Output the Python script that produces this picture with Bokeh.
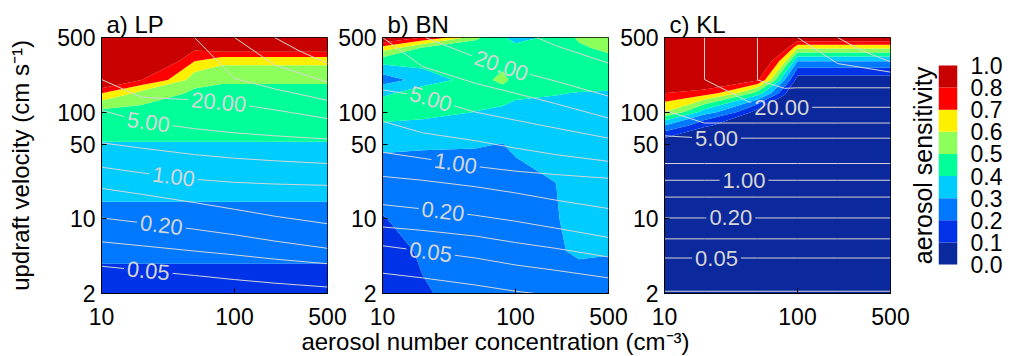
import numpy as np
from bokeh.plotting import figure
from bokeh.models import FixedTicker, PrintfTickFormatter, LinearAxis, Range1d
from bokeh.layouts import row
from bokeh.core.properties import value
from bokeh.embed import file_html
from bokeh.resources import INLINE

FONT = "Liberation Sans"
LINE_COL = "#D6D6D6"
LABEL_FS = 22

# ---------------- data ----------------
aerosol_N = [10, 20, 50, 80, 100, 200, 300, 500]
updraft_w = [2, 5, 10, 20, 50, 75, 100, 150, 200, 300, 400, 500]

x_ticks = [10, 100, 500]
y_ticks = [2, 10, 50, 100, 500]

levels = [0.0, 0.1, 0.2, 0.3, 0.4, 0.5, 0.6, 0.7, 0.8, 1.0]
level_labels = ["0.0", "0.1", "0.2", "0.3", "0.4", "0.5", "0.6", "0.7", "0.8", "1.0"]
palette = ["#0B299C", "#0033E8", "#0078FF", "#00CCFF", "#00FF99",
           "#8CFF5A", "#FFF000", "#FF0000", "#C80000"]

# aerosol sensitivity, rows = updraft_w, columns = aerosol_N
sens_LP = [
    [0.14, 0.14, 0.14, 0.14, 0.14, 0.14, 0.14, 0.14],
    [0.24, 0.24, 0.24, 0.24, 0.24, 0.24, 0.24, 0.24],
    [0.26, 0.26, 0.26, 0.26, 0.26, 0.26, 0.26, 0.26],
    [0.35, 0.35, 0.35, 0.35, 0.35, 0.35, 0.35, 0.35],
    [0.395, 0.395, 0.395, 0.395, 0.395, 0.395, 0.395, 0.395],
    [0.44, 0.44, 0.44, 0.44, 0.44, 0.44, 0.44, 0.44],
    [0.47, 0.47, 0.47, 0.47, 0.47, 0.47, 0.47, 0.47],
    [0.70, 0.56, 0.48, 0.48, 0.48, 0.48, 0.48, 0.48],
    [0.99, 0.80, 0.54, 0.51, 0.51, 0.51, 0.51, 0.51],
    [0.99, 0.95, 0.70, 0.63, 0.63, 0.63, 0.63, 0.63],
    [0.99, 0.97, 0.83, 0.88, 0.88, 0.88, 0.88, 0.88],
    [0.99, 0.98, 0.95, 0.95, 0.95, 0.95, 0.95, 0.95],
]
sens_BN = [
    [0.12, 0.19, 0.26, 0.25, 0.24, 0.23, 0.22, 0.195],
    [0.15, 0.22, 0.27, 0.27, 0.27, 0.28, 0.33, 0.32],
    [0.195, 0.25, 0.27, 0.275, 0.275, 0.29, 0.36, 0.35],
    [0.25, 0.26, 0.27, 0.28, 0.27, 0.298, 0.36, 0.36],
    [0.32, 0.31, 0.305, 0.298, 0.32, 0.33, 0.37, 0.37],
    [0.385, 0.37, 0.35, 0.34, 0.345, 0.35, 0.365, 0.365],
    [0.45, 0.44, 0.398, 0.38, 0.37, 0.37, 0.36, 0.36],
    [0.385, 0.45, 0.45, 0.45, 0.42, 0.405, 0.395, 0.39],
    [0.25, 0.35, 0.46, 0.53, 0.46, 0.45, 0.45, 0.45],
    [0.44, 0.44, 0.45, 0.46, 0.45, 0.46, 0.46, 0.45],
    [0.66, 0.49, 0.45, 0.44, 0.42, 0.45, 0.48, 0.54],
    [0.95, 0.80, 0.52, 0.41, 0.37, 0.43, 0.52, 0.58],
]
sens_KL = [
    [0.03, 0.03, 0.03, 0.03, 0.03, 0.03, 0.03, 0.03],
    [0.03, 0.03, 0.03, 0.03, 0.03, 0.03, 0.03, 0.03],
    [0.03, 0.03, 0.03, 0.03, 0.03, 0.03, 0.03, 0.03],
    [0.03, 0.03, 0.03, 0.03, 0.03, 0.03, 0.03, 0.03],
    [0.02, 0.01, 0.01, 0.01, 0.01, 0.01, 0.01, 0.01],
    [0.30, 0.11, 0.01, 0.01, 0.01, 0.01, 0.01, 0.01],
    [0.60, 0.35, 0.05, 0.01, 0.01, 0.01, 0.01, 0.01],
    [0.80, 0.75, 0.45, 0.11, 0.01, 0.01, 0.01, 0.01],
    [0.95, 0.95, 0.82, 0.30, 0.05, 0.05, 0.05, 0.05],
    [0.98, 0.98, 0.95, 0.62, 0.30, 0.30, 0.30, 0.30],
    [0.98, 0.98, 0.97, 0.85, 0.62, 0.62, 0.62, 0.62],
    [0.98, 0.98, 0.98, 0.95, 0.92, 0.92, 0.92, 0.92],
]

# white contour lines (second quantity), each line: aerosol N and updraft w
LP_line_level = [0.05, 0.1, 0.2, 0.5, 1, 2, 5, 20, 50, 100, 200]
LP_line_N = [
    [10, 20, 50, 100, 200, 500], [10, 20, 50, 100, 200, 500],
    [10, 20, 50, 100, 200, 500], [10, 20, 50, 100, 200, 500],
    [10, 20, 50, 100, 200, 500], [10, 20, 50, 100, 200, 500],
    [10, 20, 50, 100, 200, 500], [10, 20, 50, 100, 200, 500],
    [50, 100, 200, 500], [100, 200, 500], [200, 300, 500],
]
LP_line_w = [
    [3.6, 3.3, 2.95, 2.7, 2.5, 2.3],
    [6.1, 5.6, 5.0, 4.6, 4.2, 3.8],
    [10.2, 9.2, 8.0, 7.1, 6.2, 5.3],
    [19.3, 17.0, 14.2, 12.3, 10.6, 9.0],
    [30.5, 27.0, 23.5, 22.0, 21.2, 20.6],
    [51.6, 46, 40, 37, 35, 33],
    [104, 82, 70, 64, 60, 56],
    [202, 138, 130, 120, 105, 87],
    [500, 207, 165, 129],
    [500, 276, 191],
    [500, 380, 285],
]
LP_label_level = [20, 5, 1, 0.2, 0.05]
LP_label_N = [76, 22.5, 34.8, 28.2, 22.5]

BN_line_level = [0.02, 0.05, 0.1, 0.2, 0.5, 1, 2, 5, 10, 20, 50]
BN_line_N = [
    [10, 20, 50, 100, 200, 500], [10, 20, 50, 100, 200, 500],
    [10, 20, 50, 100, 200, 500], [10, 20, 50, 100, 200, 500],
    [10, 20, 50, 100, 200, 500], [10, 20, 50, 100, 200, 500],
    [10, 20, 50, 100, 200, 500], [10, 20, 50, 100, 200, 500],
    [10, 20, 50, 100, 200, 500], [21, 45, 100, 200, 500], [145, 200, 500],
]
BN_line_w = [
    [3.1, 2.8, 2.4, 2.1, 1.9, 1.7],
    [5.6, 5.0, 4.3, 3.7, 3.3, 2.8],
    [8.4, 7.8, 6.9, 6.0, 5.3, 4.4],
    [13.6, 12.4, 10.8, 9.5, 8.2, 6.7],
    [25, 23, 20, 17.5, 15, 12.5],
    [42, 37, 31, 28, 26, 24],
    [82, 64, 54, 46, 40, 34.6],
    [162, 140, 100, 84, 71, 57],
    [500, 267, 186, 150, 120, 88],
    [500, 344, 245, 195, 141],
    [500, 420, 287],
]
BN_label_level = [20, 5, 1, 0.2, 0.05]
BN_label_N = [78, 23, 35.4, 28.5, 23]

KL_line_level = [0.02, 0.05, 0.1, 0.2, 0.5, 1, 2, 5, 10, 20, 50, 100, 200]
KL_line_N = [
    [10, 20, 50, 100, 200, 500], [10, 20, 50, 100, 200, 500],
    [10, 20, 50, 100, 200, 500], [10, 20, 50, 100, 200, 500],
    [10, 20, 50, 100, 200, 500], [10, 20, 50, 100, 200, 500],
    [10, 20, 50, 100, 200, 500], [10, 20, 50, 100, 200, 500],
    [10, 20, 50, 100, 200, 500], [20, 20, 43, 60, 100, 200, 500],
    [50, 50, 80, 100, 200, 500], [100, 200, 500], [200, 300, 500],
]
KL_line_w = [
    [2.1, 2.1, 2.1, 2.1, 2.1, 2.1],
    [4.3, 4.3, 4.3, 4.3, 4.3, 4.3],
    [6.5, 6.5, 6.5, 6.5, 6.5, 6.5],
    [10.2, 10.2, 10.2, 10.2, 10.2, 10.2],
    [16, 16, 16, 16, 16, 16],
    [23, 23, 23, 23, 23, 23],
    [33, 33, 33, 33, 33, 33],
    [60, 57, 57, 57, 57, 57],
    [104, 79, 79, 79, 79, 79],
    [500, 202, 125, 111, 111, 111, 111],
    [500, 200, 167, 169, 169, 169],
    [500, 285, 237],
    [500, 380, 296],
]
KL_label_level = [20, 5, 1, 0.2, 0.05]
KL_label_N = [76, 24.6, 39.6, 31.5, 24.6]

# ---------------- layout constants ----------------
FRAME_W, FRAME_H = 226, 256
TOP_B, BOT_B = 37, 62
KX = FRAME_W / np.log10(500 / 10)   # px per decade, x
KY = FRAME_H / np.log10(500 / 2)    # px per decade, y


def _seg(X, x):
    j = int(np.searchsorted(X, x, side="right")) - 1
    return min(max(j, 0), len(X) - 2)


def _yat(X, Y, x):
    j = _seg(X, x)
    if X[j + 1] == X[j]:
        return Y[j + 1]
    return Y[j] + (Y[j + 1] - Y[j]) * (x - X[j]) / (X[j + 1] - X[j])


def split_for_label(Ns, ws, n_lab, txt, fs):
    X = np.log10(np.asarray(Ns, float)) * KX
    Y = np.log10(np.asarray(ws, float)) * KY
    xc = np.log10(n_lab) * KX
    j = _seg(X, xc)
    th = float(np.arctan2(Y[j + 1] - Y[j], X[j + 1] - X[j]))
    yc = _yat(X, Y, xc)
    half = fs * (0.556 * (len(txt) - 1) + 0.278) / 2 + 3
    d = half * abs(np.cos(th))
    xl, xr = xc - d, xc + d
    lx = [x for x in X if x < xl] + [xl]
    ly = [Y[k] for k in range(len(X)) if X[k] < xl] + [_yat(X, Y, xl)]
    rx = [xr] + [x for x in X if x > xr]
    ry = [_yat(X, Y, xr)] + [Y[k] for k in range(len(X)) if X[k] > xr]
    toN = lambda a: [float(10 ** (v / KX)) for v in a]
    tow = lambda a: [float(10 ** (v / KY)) for v in a]
    return [(toN(lx), tow(ly)), (toN(rx), tow(ry))], (float(n_lab), float(10 ** (yc / KY)), th)


def make_panel(title, sens, line_N, line_w, line_lev, lab_lev, lab_N,
               left_b, right_b, margin_left, ylabel=None, xlabel=None):
    p = figure(title=title, x_axis_type="log", y_axis_type="log",
               x_range=Range1d(10, 500), y_range=Range1d(2, 500),
               frame_width=FRAME_W, frame_height=FRAME_H,
               min_border_left=left_b, min_border_right=right_b,
               min_border_top=TOP_B, min_border_bottom=BOT_B,
               output_backend="svg", toolbar_location=None,
               margin=(0, 0, 0, margin_left))
    p.border_fill_alpha = 0
    p.grid.visible = False
    p.outline_line_color = "black"
    p.outline_line_width = 1
    p.outline_line_alpha = 1

    p.contour(x=np.array(aerosol_N, float), y=np.array(updraft_w, float),
              z=np.array(sens, float), levels=levels,
              fill_color=palette, line_color=None)

    xs, ys = [], []
    lx, ly, lt, la = [], [], [], []
    for N, w, lev in zip(line_N, line_w, line_lev):
        if lev in lab_lev:
            k = lab_lev.index(lev)
            txt = f"{lev:.2f}"
            pieces, (cx, cy, th) = split_for_label(N, w, lab_N[k], txt, LABEL_FS)
            for a, b in pieces:
                xs.append(a)
                ys.append(b)
            lx.append(cx); ly.append(cy); lt.append(txt); la.append(th)
        else:
            xs.append([float(v) for v in N])
            ys.append([float(v) for v in w])
    p.multi_line(xs=xs, ys=ys, line_color=LINE_COL, line_width=1)
    p.text(x=lx, y=ly, text=lt, angle=la, text_font=value(FONT),
           text_font_size=f"{LABEL_FS}px", text_color=LINE_COL,
           text_align="center", text_baseline="middle")

    xa = p.xaxis[0]
    ya = p.yaxis[0]
    xa.ticker = FixedTicker(ticks=x_ticks)
    ya.ticker = FixedTicker(ticks=y_ticks)
    for ax in (xa, ya):
        ax.formatter = PrintfTickFormatter(format="%d")
        ax.major_label_text_font = FONT
        ax.major_label_text_font_size = "23px"
        ax.major_label_text_color = "black"
        ax.major_tick_in = 5
        ax.major_tick_out = 0
        ax.minor_tick_line_color = None
        ax.axis_line_color = "black"
        ax.major_tick_line_color = "black"
    xa.major_label_standoff = 14
    ya.major_label_standoff = 6
    if ylabel:
        ya.axis_label = ylabel
        ya.axis_label_text_font = FONT
        ya.axis_label_text_font_size = "24px"
        ya.axis_label_text_font_style = "normal"
        ya.axis_label_text_color = "black"
        ya.axis_label_standoff = 20
    if xlabel:
        xa.axis_label = xlabel
        xa.axis_label_text_font = FONT
        xa.axis_label_text_font_size = "24px"
        xa.axis_label_text_font_style = "normal"
        xa.axis_label_text_color = "black"
        xa.axis_label_standoff = 0

    p.title.text_font = FONT
    p.title.text_font_size = "24px"
    p.title.text_font_style = "normal"
    p.title.text_color = "black"
    p.title.align = "left"
    p.title.offset = 5
    p.title.standoff = 0
    return p


# panel frames at x = 101, 382, 663 (page has no margin)
pa = make_panel("a) LP", sens_LP, LP_line_N, LP_line_w, LP_line_level,
                LP_label_level, LP_label_N, 101, 25, 0,
                ylabel="updraft velocity (cm s\u207b\u00b9)")
pb = make_panel("b) BN", sens_BN, BN_line_N, BN_line_w, BN_line_level,
                BN_label_level, BN_label_N, 84, 84, -54,
                xlabel="aerosol number concentration (cm\u207b\u00b3)")
pc = make_panel("c) KL", sens_KL, KL_line_N, KL_line_w, KL_line_level,
                KL_label_level, KL_label_N, 46, 25, -75)

# ---------------- colour bar ----------------
n_bands = len(palette)
band_bottom = list(range(n_bands))
band_top = [b + 1 for b in band_bottom]
CB_H = 199                      # px of the colour bar itself
px_unit = n_bands / CB_H
cb = figure(x_range=Range1d(0, 1),
            y_range=Range1d(-29 * px_unit, n_bands + 28 * px_unit),
            frame_width=19, frame_height=FRAME_H,
            min_border_left=30, min_border_right=45,
            min_border_top=TOP_B, min_border_bottom=BOT_B,
            y_axis_location="right", output_backend="svg", toolbar_location=None,
            margin=(0, 0, 0, -10))
cb.border_fill_alpha = 0
cb.background_fill_alpha = 0
cb.quad(left=0, right=1, bottom=band_bottom, top=band_top, fill_color=palette, line_color=None)
cb.xaxis.visible = False
cb.grid.visible = False
cb.outline_line_color = None
cya = cb.yaxis[0]
cya.ticker = FixedTicker(ticks=list(range(len(level_labels))))
cya.major_label_overrides = {i: lab for i, lab in enumerate(level_labels)}
cya.major_label_text_font = FONT
cya.major_label_text_font_size = "23px"
cya.major_label_text_color = "black"
cya.major_label_standoff = 7
cya.major_tick_line_color = None
cya.minor_tick_line_color = None
cya.axis_line_color = None
lab_axis = LinearAxis(axis_label="aerosol sensitivity", ticker=FixedTicker(ticks=[]),
                      axis_line_color=None,
                      major_tick_line_color=None, minor_tick_line_color=None,
                      axis_label_standoff=2, axis_label_text_font=FONT,
                      axis_label_text_color="black",
                      axis_label_text_font_size="25px", axis_label_text_font_style="normal")
cb.add_layout(lab_axis, "left")

layout = row(pa, pb, pc, cb)
open("out.html", "w").write(file_html(layout, INLINE))
